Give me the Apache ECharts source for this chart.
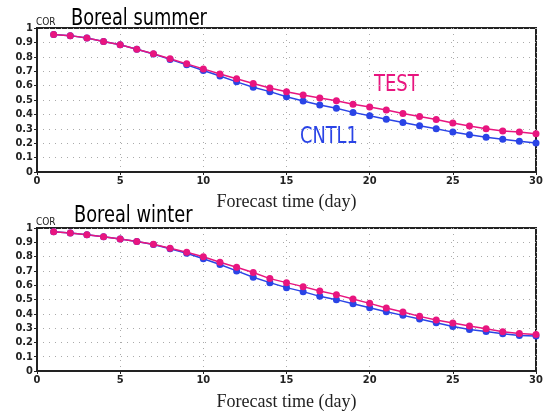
<!DOCTYPE html>
<html>
<head>
<meta charset="utf-8">
<script src="https://cdn.jsdelivr.net/npm/echarts@6/dist/echarts.min.js"></script>
<style>
  html, body { margin: 0; padding: 0; background: #fff; }
  #chart { width: 546px; height: 412px; }
</style>
</head>
<body>
<div id="chart"></div>
<script>
let chart = echarts.init(document.querySelector("#chart"))

// forecast day 1..30
const days = [1, 2, 3, 4, 5, 6, 7, 8, 9, 10, 11, 12, 13, 14, 15,
    16, 17, 18, 19, 20, 21, 22, 23, 24, 25, 26, 27, 28, 29, 30]

// Boreal summer
const summerTest = [0.955, 0.947, 0.930, 0.907, 0.884, 0.853, 0.821, 0.786, 0.751, 0.716,
    0.681, 0.647, 0.614, 0.584, 0.558, 0.535, 0.514, 0.495, 0.470, 0.451,
    0.430, 0.407, 0.386, 0.365, 0.340, 0.319, 0.300, 0.284, 0.277, 0.265]
const summerCntl = [0.955, 0.947, 0.930, 0.907, 0.884, 0.852, 0.819, 0.782, 0.744, 0.705,
    0.667, 0.626, 0.588, 0.558, 0.523, 0.493, 0.465, 0.442, 0.414, 0.391,
    0.367, 0.344, 0.321, 0.300, 0.277, 0.258, 0.242, 0.228, 0.214, 0.202]

// Boreal winter
const winterTest = [0.974, 0.965, 0.953, 0.939, 0.923, 0.906, 0.887, 0.859, 0.831, 0.799,
    0.761, 0.726, 0.689, 0.646, 0.618, 0.590, 0.560, 0.534, 0.504, 0.473,
    0.440, 0.412, 0.382, 0.356, 0.335, 0.314, 0.295, 0.274, 0.262, 0.255]
const winterCntl = [0.974, 0.965, 0.953, 0.939, 0.923, 0.905, 0.885, 0.855, 0.824, 0.785,
    0.745, 0.700, 0.656, 0.618, 0.583, 0.555, 0.522, 0.499, 0.471, 0.443,
    0.415, 0.389, 0.363, 0.337, 0.311, 0.290, 0.276, 0.260, 0.248, 0.244]

const testColor = '#e8157f'
const cntlColor = '#2a44e6'
const narrow = "'DejaVu Sans Condensed', 'Liberation Sans', sans-serif"

function pairs(ys) {
    return days.map((d, i) => [d, ys[i]])
}

function xAxisFor(idx, gap) {
    return {
        gridIndex: idx,
        type: 'value',
        min: 0, max: 30, interval: 5,
        name: 'Forecast time (day)',
        nameLocation: 'middle',
        nameGap: gap,
        nameTextStyle: { fontFamily: 'Liberation Serif', fontSize: 18, color: '#222' },
        axisLine: { lineStyle: { color: '#222', width: 2 } },
        axisTick: { length: 3, lineStyle: { color: '#222' } },
        axisLabel: { fontFamily: narrow, fontWeight: 'bold', fontSize: 11, color: '#222', margin: 4 },
        splitLine: { show: true, lineStyle: { type: [1, 5], color: '#aaa' } }
    }
}

function yAxisFor(idx) {
    return {
        gridIndex: idx,
        type: 'value',
        min: 0, max: 1, interval: 0.1,
        axisLine: { show: true, lineStyle: { color: '#222', width: 2 } },
        axisTick: { show: true, length: 3, lineStyle: { color: '#222' } },
        axisLabel: { fontFamily: narrow, fontWeight: 'bold', fontSize: 11, color: '#222', margin: 4 },
        splitLine: { show: true, lineStyle: { type: [1, 5], color: '#aaa' } }
    }
}

function line(name, idx, ys, color) {
    return {
        name: name,
        type: 'line',
        xAxisIndex: idx,
        yAxisIndex: idx,
        data: pairs(ys),
        symbol: 'circle',
        symbolSize: 7,
        lineStyle: { color: color, width: 1.5 },
        itemStyle: { color: color },
        animation: false
    }
}

// squeezed text, the source uses a narrow gothic face
function label(text, x, y, size, color, sx) {
    return {
        type: 'text',
        x: x, y: y,
        scaleX: sx,
        style: { text: text, font: size + 'px ' + narrow, fill: color, verticalAlign: 'top' }
    }
}

let option = {
    backgroundColor: '#fff',
    graphic: [
        label('Boreal summer', 71, 8, 23, '#000', 0.86),
        label('COR', 36, 17, 10, '#222', 1),
        label('Boreal winter', 74, 205, 23, '#000', 0.86),
        label('COR', 36, 217, 10, '#222', 1),
        label('TEST', 374, 74, 23, testColor, 0.87),
        label('CNTL1', 300, 126, 23, cntlColor, 0.86)
    ],
    grid: [
        { left: 37, right: 10, top: 28, height: 144, show: true, borderColor: '#222', borderWidth: 2 },
        { left: 37, right: 10, top: 228, height: 143, show: true, borderColor: '#222', borderWidth: 2 }
    ],
    xAxis: [xAxisFor(0, 21), xAxisFor(1, 22)],
    yAxis: [yAxisFor(0), yAxisFor(1)],
    series: [
        line('CNTL1', 0, summerCntl, cntlColor),
        line('TEST', 0, summerTest, testColor),
        line('CNTL1', 1, winterCntl, cntlColor),
        line('TEST', 1, winterTest, testColor)
    ]
};
chart.setOption(option);
</script>
</body>
</html>
